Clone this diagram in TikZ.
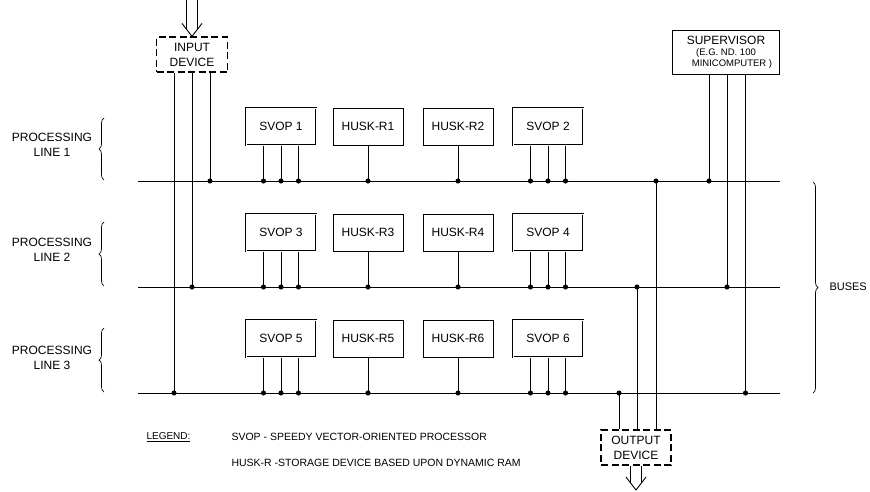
\documentclass[tikz,border=0pt]{standalone}
\usepackage{fontspec}
\setmainfont{Liberation Sans}
\usetikzlibrary{arrows.meta,positioning,decorations.pathreplacing,calc}

\begin{document}
\begin{tikzpicture}[
  x=1pt, y=-1pt,
  every node/.style={font=\fontsize{12}{15}\selectfont},
  unit/.style={draw, line width=1pt, minimum width=70pt, minimum height=37pt, inner sep=2pt},
  svop/.style={unit, double, double distance=0.8pt},
  device/.style={draw, dash pattern=on 7pt off 3.5pt, line width=1.2pt, align=center, minimum width=71pt, minimum height=35pt, inner sep=2pt},
  bus/.style={line width=1pt},
  tap/.style={line width=0.7pt, -{Circle[length=5pt]}, shorten >=-2.5pt},
  tapdown/.style={line width=0.7pt, {Circle[length=5pt]}-, shorten <=-2.5pt},
  feed/.style={line width=0.9pt, line join=miter},
  brace/.style={decorate, decoration={brace, amplitude=5pt}, line width=0.7pt}
]
\useasboundingbox (0,0) rectangle (870,491);

\coordinate (w1) at (138,181); \coordinate (e1) at (780,181);
\coordinate (w2) at (138,287); \coordinate (e2) at (780,287);
\coordinate (w3) at (138,393); \coordinate (e3) at (780,393);
\foreach \r in {1,2,3} \draw[bus] (w\r) -- (e\r);

\node[svop] (svop1) at (281,126.5) {SVOP 1};
\node[unit] (husk1) at (368,126.5) {HUSK-R1};
\node[unit] (husk2) at (458,126.5) {HUSK-R2};
\node[svop] (svop2) at (548,126.5) {SVOP 2};
\node[svop] (svop3) at (281,232.5) {SVOP 3};
\node[unit] (husk3) at (368,232.5) {HUSK-R3};
\node[unit] (husk4) at (458,232.5) {HUSK-R4};
\node[svop] (svop4) at (548,232.5) {SVOP 4};
\node[svop] (svop5) at (281,338.5) {SVOP 5};
\node[unit] (husk5) at (368,338.5) {HUSK-R5};
\node[unit] (husk6) at (458,338.5) {HUSK-R6};
\node[svop] (svop6) at (548,338.5) {SVOP 6};

\foreach \a/\b/\r in {1/2/1, 3/4/2, 5/6/3} {
  \foreach \n in {\a,\b} {
    \foreach \dx in {-17.5,0,17.5}
      \draw[tap] ([xshift=\dx pt]svop\n.south) -- ([xshift=\dx pt]svop\n.south |- w\r);
    \draw[tap] (husk\n) -- (husk\n |- w\r);
  }
}

\node[device] (in) at (192,54.5) {INPUT\\DEVICE};
\node[device, minimum width=70pt] (out) at (636,447.5) {OUTPUT\\DEVICE};
\node[draw, line width=1pt, minimum width=107pt, minimum height=44pt, align=center, inner sep=1pt] (sup) at (726,52)
  {SUPERVISOR\\[-4pt]{\fontsize{9.5}{11}\selectfont (E.G. ND. 100\hspace*{16pt}}\\[-4pt]{\fontsize{9.5}{11}\selectfont\hspace*{12pt}MINICOMPUTER )}};

\coordinate (src) at (192,0);
\coordinate (snk) at (636,490);
\draw[feed] ($(src)+(-5.5,0)$) -- ($(in.north)+(-5.5,-7)$);
\draw[feed] ($(src)+(5.5,0)$) -- ($(in.north)+(5.5,-7)$);
\draw[feed] ($(in.north)+(-10,-13)$) -- (in.north) -- ($(in.north)+(10,-13)$);
\draw[feed] ($(out.south)+(-5.5,0)$) -- ($(snk)+(-5.5,-7)$);
\draw[feed] ($(out.south)+(5.5,0)$) -- ($(snk)+(5.5,-7)$);
\draw[feed] ($(snk)+(-10,-13)$) -- (snk) -- ($(snk)+(10,-13)$);

\foreach \dx/\r in {-18/3, 0/2, 18/1}
  \draw[tap] ([xshift=\dx pt]in.south) -- ([xshift=\dx pt]in.south |- w\r);
\foreach \dx/\r in {-17/1, 1/2, 19.5/3}
  \draw[tap] ([xshift=\dx pt]sup.south) -- ([xshift=\dx pt]sup.south |- w\r);
\foreach \dx/\r in {-17/3, 1/2, 20/1}
  \draw[tapdown] ([xshift=\dx pt]out.north |- w\r) -- ([xshift=\dx pt]out.north);

\node[align=center] (pl1) at (52,145) {PROCESSING\\LINE 1};
\node[align=center] (pl2) at (52,250) {PROCESSING\\LINE 2};
\node[align=center] (pl3) at (52,358) {PROCESSING\\LINE 3};
\draw[brace] (104,180) -- (104,118);
\draw[brace] (104,286) -- (104,222);
\draw[brace] (104,392) -- (104,328);
\draw[brace] (813,182) -- (813,393);
\node[anchor=west, font=\fontsize{11}{13}\selectfont] (buses) at (826,287) {BUSES};

\node[anchor=west, font=\fontsize{10}{12}\selectfont] (leg) at (143,437) {\underline{LEGEND:}};
\node[anchor=west, font=\fontsize{10.5}{12}\selectfont] (key1) at (228,437) {SVOP - SPEEDY VECTOR-ORIENTED PROCESSOR};
\node[anchor=west, font=\fontsize{10.5}{12}\selectfont] (key2) at (228,463) {HUSK-R -STORAGE DEVICE BASED UPON DYNAMIC RAM};
\end{tikzpicture}
\end{document}
